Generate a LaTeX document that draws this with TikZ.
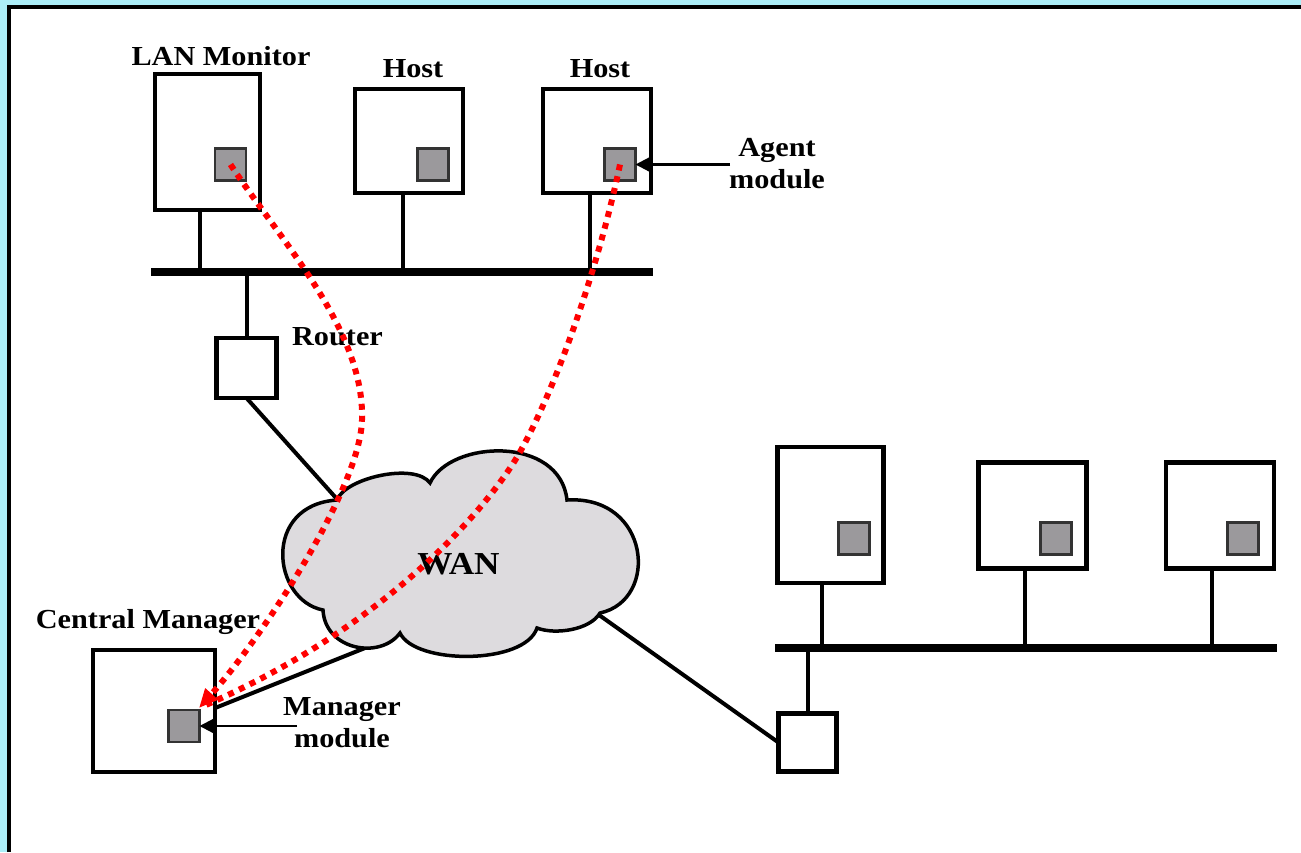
\documentclass[tikz,border=0pt]{standalone}
\usepackage{fontspec}
\setmainfont{Liberation Serif}
\newfontfamily\lblfont{Liberation Serif}[FakeStretch=1.1]
\usetikzlibrary{arrows.meta}
\definecolor{framecyan}{RGB}{172,238,248}
\definecolor{modgray}{RGB}{155,153,156}
\definecolor{cloudgray}{RGB}{221,219,222}
\tikzset{
  box/.style={draw, line width=4.5pt, fill=white, inner sep=0pt, outer sep=0pt},
  module/.style={draw=black!80, line width=2.2pt, fill=modgray, minimum width=31pt,
    minimum height=32pt, inner sep=0pt, outer sep=0pt},
  bus/.style={line width=8pt},
  drop/.style={line width=4pt},
  link/.style={line width=4pt},
  pointer/.style={line width=2.2pt, -{Triangle[length=14pt,width=14pt]}},
  probe/.style={red, line width=6pt, dash pattern=on 6pt off 6pt},
  lbl/.style={font=\lblfont\bfseries\fontsize{27.5}{32}\selectfont, inner sep=0pt},
}
\begin{document}
\begin{tikzpicture}[x=1pt,y=-1pt]
\useasboundingbox (0,0) rectangle (1301,852);
% page frame
\fill[framecyan] (0,0) rectangle (1301,852);
\fill[white] (9,7) rectangle (1301,852);
\draw[line width=3.5pt] (9,852) -- (9,7) -- (1301,7);

% ---------- upper LAN ----------
\node[box, minimum width=105pt, minimum height=136pt] (lanmon) at (207.5,142) {};
\node[box, minimum width=108pt, minimum height=104pt] (hostA) at (409,141) {};
\node[box, minimum width=108pt, minimum height=104pt] (hostB) at (597,141) {};
\node[module] (mlan) at (230.5,164.5) {};
\node[module] (mhA) at (433,164.5) {};
\node[module] (mhB) at (620,164.5) {};
\node[box, minimum width=60pt, minimum height=60pt] (routerA) at (246.5,368) {};

\coordinate (busAw) at (151,272);
\coordinate (busAe) at (653,272);
\coordinate (tapA1) at (200,272);
\coordinate (tapA2) at (403,272);
\coordinate (tapA3) at (590,272);
\draw[drop] (lanmon.south -| tapA1) -- (tapA1);
\draw[drop] (hostA.south -| tapA2) -- (tapA2);
\draw[drop] (hostB.south -| tapA3) -- (tapA3);
\draw[drop] (routerA.north) -- (routerA.north |- busAw);
\draw[bus] (busAw) -- (busAe);

% ---------- central manager ----------
\node[box, minimum width=122pt, minimum height=122pt] (cm) at (154,711) {};
\node[module] (mcm) at (184,726) {};

% ---------- remote LAN ----------
\node[box, minimum width=106pt, minimum height=136pt] (ra) at (830.5,515) {};
\node[box, minimum width=108pt, minimum height=106pt] (rb) at (1032.5,515.5) {};
\node[box, minimum width=108pt, minimum height=106pt] (rc) at (1220,515.5) {};
\node[module] (mra) at (854,538.5) {};
\node[module] (mrb) at (1056,538.5) {};
\node[module] (mrc) at (1243,538.5) {};
\node[box, minimum width=58pt, minimum height=58pt] (routerB) at (807.5,742.5) {};

\coordinate (busBw) at (775,648);
\coordinate (busBe) at (1277,648);
\coordinate (tapB1) at (822,648);
\coordinate (tapB2) at (1025,648);
\coordinate (tapB3) at (1212,648);
\draw[drop] (ra.south -| tapB1) -- (tapB1);
\draw[drop] (rb.south -| tapB2) -- (tapB2);
\draw[drop] (rc.south -| tapB3) -- (tapB3);
\draw[drop] (routerB.north) -- (routerB.north |- busBw);
\draw[bus] (busBw) -- (busBe);

% ---------- WAN links (ends tucked under the cloud) ----------
\coordinate (wanNW) at (345,508);
\coordinate (wanSW) at (385,640);
\coordinate (wanSE) at (585,605);
\draw[link] (routerA.south) -- (wanNW);
\draw[link] (wanSW) -- ([yshift=3pt]cm.east);
\draw[link] (wanSE) -- (routerB.west);

% ---------- WAN cloud ----------
\draw[line width=3.5pt, fill=cloudgray]
  (337,500) .. controls (345,478) and (415,462) .. (430,483)
  .. controls (450,440) and (560,435) .. (567,500)
  .. controls (650,495) and (660,600) .. (600,613)
  .. controls (590,630) and (555,635) .. (537,628)
  .. controls (525,665) and (415,665) .. (400,633)
  .. controls (380,660) and (325,650) .. (323,610)
  .. controls (272,600) and (262,505) .. cycle;
\node[font=\lblfont\bfseries\fontsize{32}{36}\selectfont, inner sep=0pt, anchor=base]
  (wan) at (458.5,574) {WAN};

% ---------- labels ----------
\node[lbl, anchor=base] (lanlbl) at (221,65) {LAN Monitor};
\node[lbl, anchor=base] (hostAlbl) at (413,77) {Host};
\node[lbl, anchor=base] (hostBlbl) at (600,77) {Host};
\node[lbl, anchor=base] (routerlbl) at (337.5,345) {Router};
\node[lbl, anchor=base] (cmlbl) at (148,628) {Central Manager};
\node[lbl, align=center] (agentlbl) at (777,164) {Agent\\module};
\node[lbl, align=center] (mgrlbl) at (342,723) {Manager\\module};

\coordinate (agenttail) at (730,164.5);
\coordinate (mgrtail) at (297,726);
\draw[pointer] (agenttail) -- (mhB.east);
\draw[pointer] (mgrtail) -- (mcm.east);

% ---------- management traffic ----------
\coordinate (tipcm) at (199,708);
\draw[probe, -{Triangle[length=19pt,width=16pt]}] (mlan.center)
  .. controls (280,240) and (365,330) .. (362,420)
  .. controls (360,490) and (260,640) .. (tipcm);
\draw[probe, shorten >=8pt] (mhB.center)
  .. controls (600,260) and (560,380) .. (520,452)
  .. controls (496,495) and (400,620) .. (tipcm);
\end{tikzpicture}
\end{document}
